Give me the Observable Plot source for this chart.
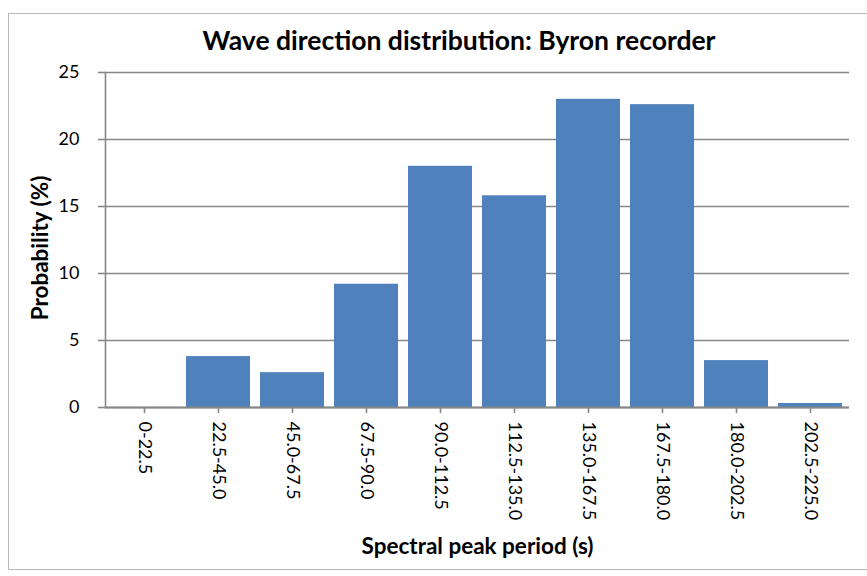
<!DOCTYPE html>
<html><head><meta charset="utf-8">
<script src="https://cdn.jsdelivr.net/npm/d3@7"></script>
<script src="https://cdn.jsdelivr.net/npm/@observablehq/plot@0.6"></script>
<style>
body{margin:0;background:#fff;font-family:Lato,sans-serif;}
#wrap{position:relative;width:867px;height:576px;overflow:hidden;}
#frame{position:absolute;left:8px;top:13px;width:880px;height:557px;border:1px solid #b9b9b9;box-sizing:border-box;}
#title{position:absolute;left:0;top:24px;width:918px;text-align:center;font-weight:bold;font-size:26.5px;line-height:32px;color:#000;}
#chart{position:absolute;left:0;top:60px;}
</style></head><body>
<div id="wrap"><div id="frame"></div><div id="title">Wave direction distribution: Byron recorder</div><div id="chart"></div></div>
<script>
const categories = ["0-22.5","22.5-45.0","45.0-67.5","67.5-90.0","90.0-112.5","112.5-135.0","135.0-167.5","167.5-180.0","180.0-202.5","202.5-225.0"];
const probability = [0, 3.8, 2.6, 9.2, 18.0, 15.8, 23.0, 22.6, 3.5, 0.3];
const yTicks = [0, 5, 10, 15, 20, 25];
const xTitle = "Spectral peak period (s)";
const yTitle = "Probability (%)";

const data = categories.map((c, i) => ({cat: c, val: probability[i]}));
const grey = "#878787";

const chart = Plot.plot({
  width: 867, height: 516,
  marginTop: 12, marginBottom: 169, marginLeft: 105, marginRight: 18,
  style: {fontFamily: "Lato, sans-serif", fontSize: "18px", color: "#000", background: "transparent"},
  x: {domain: categories, paddingInner: 0.135, paddingOuter: 0.0675, label: null},
  y: {domain: [0, 25], label: null},
  marks: [
    Plot.gridY(yTicks, {stroke: grey, strokeOpacity: 1, strokeWidth: 1.6}),
    Plot.barY(data, {x: "cat", y: "val", fill: "#4F81BD"}),
    Plot.frame({anchor: "left", stroke: grey, strokeWidth: 1.6}),
    Plot.ruleY([0], {stroke: grey, strokeWidth: 2}),
    Plot.axisY({ticks: yTicks, tickSize: 7, tickPadding: 19, stroke: grey, strokeWidth: 1.6, label: null, fontSize: 18}),
    Plot.axisX({tickSize: 6, tickPadding: 8, tickRotate: 90, stroke: grey, strokeWidth: 1.6, label: null, fontSize: 18}),
    Plot.text([xTitle], {frameAnchor: "bottom", dy: 146, textAnchor: "middle", fontWeight: "bold", fontSize: 22.5}),
    Plot.text([yTitle], {frameAnchor: "left", dx: -65, dy: 8, textAnchor: "middle", rotate: -90, fontWeight: "bold", fontSize: 22.5})
  ]
});
document.getElementById("chart").appendChild(chart);
</script>
</body></html>
